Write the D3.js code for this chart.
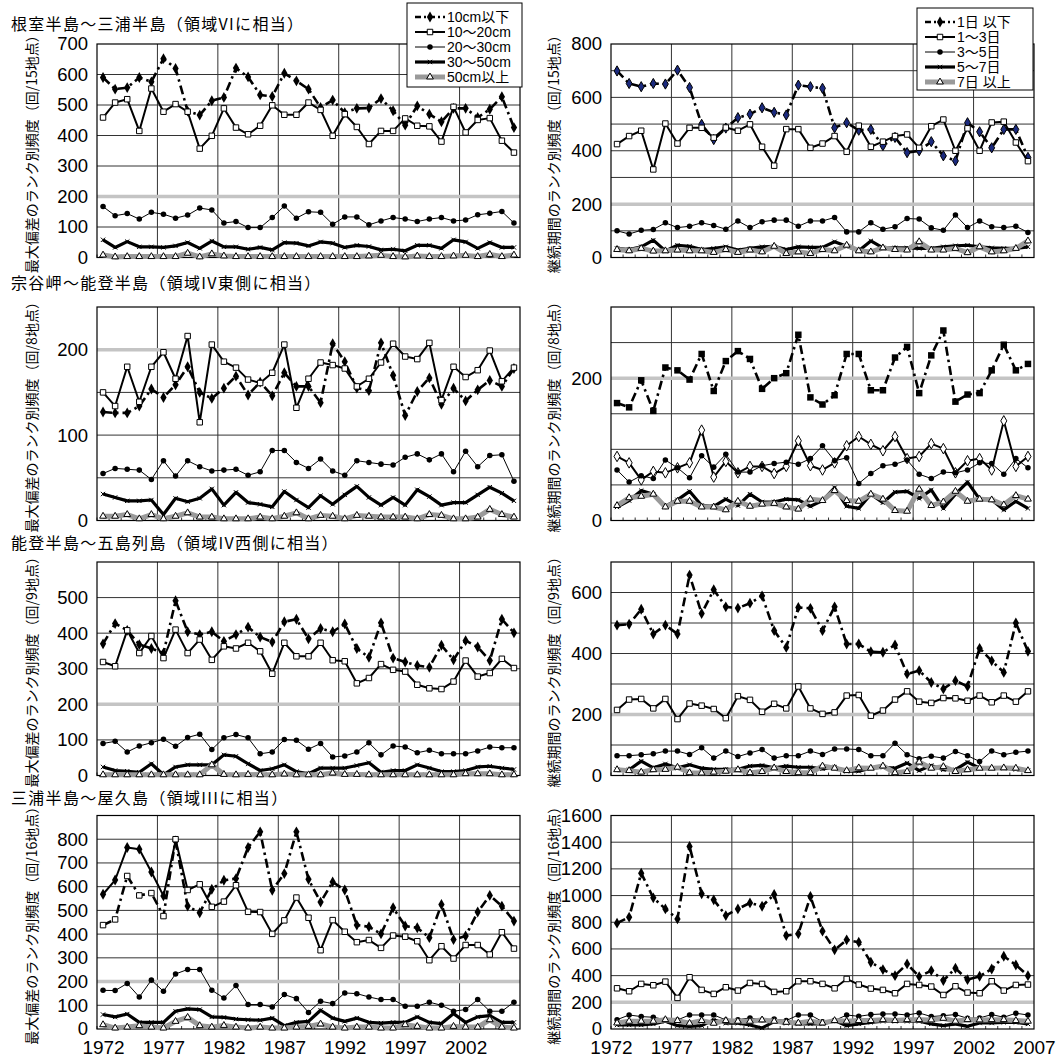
<!DOCTYPE html>
<meta charset="utf-8">
<style>
body { margin: 0; background: #fff; }
svg { font-family: "Liberation Sans", Arial, "Noto Sans CJK JP", sans-serif; }
.title { font-family: "Noto Sans CJK JP", sans-serif; font-size: 16px; letter-spacing: 1.3px; }
.ytitle { font-family: "Noto Sans CJK JP", sans-serif; font-size: 14px; }
.legend text { font-size: 14px; }
</style>
<body>
<script src="https://cdn.jsdelivr.net/npm/d3@7"></script>
<script>

// categories (years) and axis labels
var years = [1972,1973,1974,1975,1976,1977,1978,1979,1980,1981,1982,1983,1984,1985,1986,1987,1988,1989,1990,
             1991,1992,1993,1994,1995,1996,1997,1998,1999,2000,2001,2002,2003,2004,2005,2006];
var gridYears = [1977,1982,1987,1992,1997,2002];
var labelYearsL = [1972,1977,1982,1987,1992,1997,2002];
var labelYearsR = [1972,1977,1982,1987,1992,1997,2002,2007];

var devLegend = ["10cm以下","10～20cm","20～30cm","30～50cm","50cm以上"];
var durLegend = ["1日 以下","1～3日","3～5日","5～7日","7日 以上"];

// 根室半島～三浦半島 : 最大偏差 (/15地点)
var dev6_a = [590,552,557,590,576,652,620,480,467,514,525,621,592,533,528,604,579,552,492,516,475,489,490,521,481,434,497,470,445,489,489,459,486,527,426];
var dev6_b = [459,508,519,415,554,478,503,478,357,399,489,426,404,432,499,468,468,508,484,399,470,428,372,415,415,456,432,430,380,494,410,451,457,383,344];
var dev6_c = [167,137,144,126,148,142,129,139,162,156,113,118,98,98,131,169,129,150,148,109,133,133,107,120,131,126,118,126,131,120,123,140,145,151,113];
var dev6_d = [58,33,52,35,35,33,38,49,30,54,35,35,27,33,25,49,47,38,51,47,33,40,36,25,27,22,40,40,30,58,51,30,49,33,33];
var dev6_e = [8,2,3,3,3,3,3,14,2,12,5,3,3,3,3,3,3,3,3,3,3,3,5,7,3,2,5,3,3,5,7,3,10,3,8];

// 根室半島～三浦半島 : 継続期間 (/15地点)
var dur6_a = [699,652,640,652,650,702,637,499,442,485,524,537,561,544,534,646,640,634,486,505,477,480,419,450,393,400,434,381,362,505,471,411,480,480,375];
var dur6_b = [425,455,475,330,502,427,486,486,449,487,475,499,415,344,481,481,411,427,455,396,494,415,434,455,461,411,492,517,400,484,400,506,509,431,361];
var dur6_c = [100,88,102,105,130,112,117,130,120,106,137,112,134,140,140,117,137,137,150,96,96,130,106,115,146,144,111,102,159,112,137,115,112,117,94];
var dur6_d = [34,30,40,65,25,46,42,30,34,40,28,34,40,42,30,40,38,38,59,42,25,62,36,36,36,34,34,40,44,46,40,36,34,34,40];
var dur6_e = [30,25,34,24,25,28,25,25,19,30,19,28,21,42,15,21,15,30,25,46,25,21,36,30,28,59,28,28,34,18,40,21,25,34,62];

// 宗谷岬～能登半島 : 最大偏差 (/8地点)
var dev4e_a = [127,126,126,134,154,144,159,180,150,143,155,169,147,162,146,173,157,157,138,207,186,155,152,208,170,123,151,167,136,155,140,153,164,157,178];
var dev4e_b = [150,134,180,139,180,197,166,216,115,206,186,179,165,161,173,206,132,166,185,182,178,157,166,185,207,192,189,208,141,180,168,176,199,163,179];
var dev4e_c = [55,61,60,59,48,70,52,70,63,58,59,60,53,57,82,82,68,61,72,58,53,70,68,66,65,74,78,71,78,57,81,63,76,77,46];
var dev4e_d = [31,27,23,23,24,7,26,22,26,37,18,33,21,19,16,34,24,15,29,19,30,40,27,18,27,18,36,28,18,21,21,30,39,32,23];
var dev4e_e = [5,5,7,2,7,2,5,9,4,4,2,2,2,4,2,5,9,2,6,5,2,6,5,4,4,4,2,7,6,2,2,4,13,7,4];

// 宗谷岬～能登半島 : 継続期間 (/8地点)
var dur4e_a = [165,159,197,154,215,211,198,234,182,224,238,227,185,200,207,261,173,163,176,234,234,183,183,229,244,179,232,267,167,177,179,211,247,211,220];
var dur4e_b = [90,81,57,69,67,74,81,127,61,83,67,76,76,66,76,112,77,71,81,105,118,107,98,118,87,90,108,101,67,84,87,71,140,76,90];
var dur4e_c = [71,54,63,59,85,74,60,91,75,93,68,68,77,80,82,79,87,105,84,88,52,66,77,79,85,65,59,68,67,71,81,80,65,87,74];
var dur4e_d = [19,28,42,37,20,29,41,21,20,30,21,37,26,26,30,29,20,28,46,20,17,37,25,40,41,31,43,17,37,54,30,29,15,27,17];
var dur4e_e = [21,32,34,37,19,27,27,19,19,15,27,20,23,24,19,16,30,28,42,28,27,37,30,14,13,44,21,26,41,27,30,29,22,35,30];

// 能登半島～五島列島 : 最大偏差 (/9地点)
var dev4w_a = [370,427,408,368,357,344,491,404,396,404,377,396,417,389,375,432,439,384,413,404,426,357,332,429,330,319,309,304,366,325,379,361,323,439,401];
var dev4w_b = [319,307,408,344,392,330,410,344,382,325,363,357,373,349,286,373,335,335,373,324,321,259,274,313,297,292,255,245,243,264,323,278,288,328,302];
var dev4w_c = [90,96,66,83,92,102,82,107,116,73,106,115,106,61,66,101,99,74,90,52,55,66,92,58,83,80,64,71,61,61,61,69,80,78,78];
var dev4w_d = [24,14,12,9,33,2,24,30,30,30,58,54,33,14,19,30,11,5,21,21,21,28,36,9,14,14,30,21,11,11,14,24,26,21,17];
var dev4w_e = [2,2,2,2,2,2,2,2,2,30,3,2,3,2,2,4,2,2,2,7,3,3,2,2,2,2,2,2,2,2,5,5,5,2,2];

// 能登半島～五島列島 : 継続期間 (/9地点)
var dur4w_a = [493,496,545,464,493,464,657,531,609,553,549,565,589,475,420,551,548,475,553,431,431,406,404,428,333,344,305,284,311,292,417,376,338,500,407];
var dur4w_b = [215,249,251,220,251,185,236,229,218,188,260,248,209,235,220,292,220,202,207,262,264,196,213,249,276,242,238,254,253,245,262,240,262,242,276];
var dur4w_c = [65,65,68,71,80,80,69,91,57,80,62,74,85,57,65,65,80,69,87,87,85,65,65,106,68,55,63,57,79,65,46,80,68,76,80];
var dur4w_d = [19,19,47,25,38,25,35,24,20,20,20,31,33,25,31,27,27,22,27,14,14,24,27,24,41,16,33,19,19,44,24,24,24,20,16];
var dur4w_e = [19,16,11,19,20,27,9,8,11,14,19,9,13,25,13,9,9,31,24,16,25,24,31,9,13,44,24,29,13,19,24,24,25,24,16];

// 三浦半島～屋久島 : 最大偏差 (/16地点)
var dev3_a = [568,628,765,758,662,561,793,518,490,589,627,634,765,831,585,655,831,631,535,620,586,438,431,401,511,434,427,385,525,377,392,493,563,518,455];
var dev3_b = [438,462,645,563,573,476,800,586,610,515,537,606,494,493,401,458,554,469,332,459,410,366,375,342,394,389,370,290,349,297,354,354,314,408,339];
var dev3_c = [163,162,192,135,206,159,232,251,251,163,131,183,103,103,93,145,128,70,117,107,152,149,135,124,124,96,96,113,100,75,82,124,75,75,113];
var dev3_d = [61,51,63,28,28,28,75,85,82,51,49,42,39,37,46,14,28,32,79,46,32,46,28,25,28,28,51,28,23,65,28,51,56,28,28];
var dev3_e = [18,4,8,14,8,4,32,49,14,8,15,8,4,8,4,4,8,11,21,8,4,8,8,4,4,18,11,4,4,11,8,8,39,8,4];

// 三浦半島～屋久島 : 継続期間 (/16地点)
var dur3_a = [793,838,1168,983,900,825,1368,1013,968,850,900,945,920,1008,700,713,993,733,593,668,650,500,445,400,488,393,438,363,455,370,395,450,545,480,400];
var dur3_b = [305,283,338,328,355,233,388,293,263,313,288,345,338,278,283,358,358,338,305,375,333,303,293,268,338,330,318,255,320,273,268,358,288,330,333];
var dur3_c = [70,105,93,88,70,68,105,105,105,68,70,83,68,75,63,105,105,55,63,105,95,108,113,113,105,120,93,100,108,80,83,108,88,118,105];
var dur3_d = [30,30,30,38,58,25,20,25,68,43,43,30,8,55,43,38,38,38,63,25,38,50,58,58,58,58,38,25,38,20,45,45,50,50,38];
var dur3_e = [45,58,58,58,70,63,43,63,43,63,58,58,68,58,50,45,58,45,63,58,63,63,70,63,70,70,68,80,58,70,68,70,70,63,58];

// layout
var W = 1063, H = 1059;
var cols = [{left: 97, right: 520, ytx: 31, label: 0.5}, {left: 611, right: 1034, ytx: 553, label: 0}];
var rowTop = [44, 307, 562, 815.5], plotH = 213.5;
var titleY = [30, 289, 549, 804];

var lineStyles = [
  {color: "#000", width: 2.6, dash: "9,4,2.5,4"},
  {color: "#000", width: 2, dash: null},
  {color: "#000", width: 1, dash: null},
  {color: "#000", width: 3.2, dash: null},
  {color: "#9a9a9a", width: 5, dash: null}
];
var mk = {
  diamond:  {type: d3.symbolDiamond, size: 34, fill: "#000", stroke: "none"},
  navy:     {type: d3.symbolDiamond, size: 30, fill: "#1b2a7e", stroke: "#000"},
  bsquare:  {type: d3.symbolSquare, size: 42, fill: "#000", stroke: "none"},
  square:   {type: d3.symbolSquare, size: 30, fill: "#fff", stroke: "#000"},
  wdiamond: {type: d3.symbolDiamond, size: 32, fill: "#fff", stroke: "#000"},
  circle:   {type: d3.symbolCircle, size: 24, fill: "#000", stroke: "none"},
  times:    {type: d3.symbolTimes, size: 14, fill: "none", stroke: "#000"},
  tri:      {type: d3.symbolTriangle, size: 20, fill: "#fff", stroke: "#000"}
};
var defaultMarks = ["diamond", "square", "circle", "times", "tri"];

var panels = [
  {col: 0, row: 0, max: 700, grid: 100, ticks: [0,100,200,300,400,500,600,700],
   title: "根室半島～三浦半島（領域VIに相当）", ytitle: "最大偏差のランク別頻度（回/15地点）",
   series: [dev6_a, dev6_b, dev6_c, dev6_d, dev6_e]},
  {col: 1, row: 0, max: 800, grid: 100, ticks: [0,200,400,600,800], marks: ["navy"],
   ytitle: "継続期間のランク別頻度（回/15地点）",
   series: [dur6_a, dur6_b, dur6_c, dur6_d, dur6_e]},
  {col: 0, row: 1, max: 250, grid: 50, ticks: [0,100,200],
   title: "宗谷岬～能登半島（領域IV東側に相当）", ytitle: "最大偏差のランク別頻度（回/8地点）",
   series: [dev4e_a, dev4e_b, dev4e_c, dev4e_d, dev4e_e]},
  {col: 1, row: 1, max: 300, grid: 50, ticks: [0,200], marks: ["bsquare", "wdiamond"],
   ytitle: "継続期間のランク別頻度（回/8地点）",
   series: [dur4e_a, dur4e_b, dur4e_c, dur4e_d, dur4e_e]},
  {col: 0, row: 2, max: 600, grid: 100, ticks: [0,100,200,300,400,500],
   title: "能登半島～五島列島（領域IV西側に相当）", ytitle: "最大偏差のランク別頻度（回/9地点）",
   series: [dev4w_a, dev4w_b, dev4w_c, dev4w_d, dev4w_e]},
  {col: 1, row: 2, max: 700, grid: 100, ticks: [0,200,400,600],
   ytitle: "継続期間のランク別頻度（回/9地点）",
   series: [dur4w_a, dur4w_b, dur4w_c, dur4w_d, dur4w_e]},
  {col: 0, row: 3, max: 900, grid: 100, ticks: [0,100,200,300,400,500,600,700,800], swap: 6, xlabels: labelYearsL,
   title: "三浦半島～屋久島（領域IIIに相当）", ytitle: "最大偏差のランク別頻度（回/16地点）",
   series: [dev3_a, dev3_b, dev3_c, dev3_d, dev3_e]},
  {col: 1, row: 3, max: 1600, grid: 200, ticks: [0,200,400,600,800,1000,1200,1400,1600], xlabels: labelYearsR,
   ytitle: "継続期間のランク別頻度（回/16地点）",
   series: [dur3_a, dur3_b, dur3_c, dur3_d, dur3_e]}
];

var svg = d3.select("body").append("svg")
    .attr("width", W)
    .attr("height", H);

function styleLine(sel, st) {
  sel.attr("fill", "none")
     .attr("stroke", st.color)
     .attr("stroke-width", st.width)
     .attr("stroke-linejoin", "round")
     .attr("stroke-dasharray", st.dash);
}

function drawMarks(g, pts, m) {
  g.selectAll(null).data(pts).enter().append("path")
      .attr("transform", function(d) { return "translate(" + d[0] + "," + d[1] + ")"; })
      .attr("d", d3.symbol().type(m.type).size(m.size))
      .attr("fill", m.fill)
      .attr("stroke", m.stroke)
      .attr("stroke-width", 1);
}

function drawPanel(p) {
  var c = cols[p.col], top = rowTop[p.row], bottom = top + plotH;
  var x = d3.scaleLinear().domain([1972, 2007]).range([c.left, c.right]);
  var y = d3.scaleLinear().domain([0, p.max]).range([bottom, top]);
  var g = svg.append("g");

  // gridlines
  g.selectAll(".hg").data(d3.range(p.grid, p.max, p.grid)).enter().append("line")
      .attr("x1", c.left).attr("x2", c.right)
      .attr("y1", function(d) { return y(d); }).attr("y2", function(d) { return y(d); })
      .attr("stroke", "#333").attr("stroke-width", 1);
  g.selectAll(".vg").data(gridYears).enter().append("line")
      .attr("x1", function(d) { return x(d); }).attr("x2", function(d) { return x(d); })
      .attr("y1", top).attr("y2", bottom)
      .attr("stroke", "#333").attr("stroke-width", 1);
  // small ticks on the bottom edge
  g.selectAll(".tk").data(years).enter().append("line")
      .attr("x1", function(d) { return x(d); }).attr("x2", function(d) { return x(d); })
      .attr("y1", bottom).attr("y2", bottom - 3)
      .attr("stroke", "#333").attr("stroke-width", 1);

  // 200 reference line
  g.append("line")
      .attr("x1", c.left).attr("x2", c.right)
      .attr("y1", y(200)).attr("y2", y(200))
      .attr("stroke", "#c4c4c4").attr("stroke-width", 3.5);

  // frame
  g.append("rect")
      .attr("x", c.left).attr("y", top)
      .attr("width", c.right - c.left).attr("height", plotH)
      .attr("fill", "none").attr("stroke", "#000").attr("stroke-width", 1.2);

  // y axis
  var ya = g.append("g")
      .attr("transform", "translate(" + c.left + ",0)")
      .call(d3.axisLeft(y).tickValues(p.ticks).tickFormat(d3.format("d")).tickSize(0).tickPadding(9));
  ya.select(".domain").remove();
  ya.attr("font-size", 18.5).attr("font-family", null);

  // x axis labels (bottom row only)
  if (p.xlabels) {
    var xa = g.append("g")
        .attr("transform", "translate(0," + bottom + ")")
        .call(d3.axisBottom(x)
          .tickValues(p.xlabels.map(function(d) { return d + c.label; }))
          .tickFormat(function(d) { return Math.floor(d); })
          .tickSize(0).tickPadding(12));
    xa.select(".domain").remove();
    xa.attr("font-size", 19).attr("font-family", null);
  }

  // series
  var marks = defaultMarks.map(function(d, i) { return (p.marks && p.marks[i]) || d; });
  var line = d3.line();
  p.series.forEach(function(vals, k) {
    var pts = years.map(function(yr, i) { return [x(yr + 0.5), y(vals[i])]; });
    if (p.swap && k < 2) {
      // the early segments of the first two series are drawn with each other's style
      styleLine(g.append("path").attr("d", line(pts.slice(0, p.swap + 1))), lineStyles[1 - k]);
      styleLine(g.append("path").attr("d", line(pts.slice(p.swap))), lineStyles[k]);
    } else {
      styleLine(g.append("path").attr("d", line(pts)), lineStyles[k]);
    }
    drawMarks(g, pts, mk[marks[k]]);
  });

  // titles
  if (p.title) {
    svg.append("text").attr("class", "title")
        .attr("x", 11).attr("y", titleY[p.row])
        .text(p.title);
  }
  svg.append("text").attr("class", "ytitle")
      .attr("text-anchor", "middle")
      .attr("dominant-baseline", "central")
      .attr("transform", "translate(" + c.ytx + "," + (top + plotH / 2) + ") rotate(-90)")
      .text(p.ytitle);
}

panels.forEach(drawPanel);

// legends
function drawLegend(x0, y0, w, h, labels) {
  var g = svg.append("g").attr("class", "legend");
  g.append("rect").attr("x", x0).attr("y", y0).attr("width", w).attr("height", h)
      .attr("fill", "#fff").attr("stroke", "#000").attr("stroke-width", 1);
  labels.forEach(function(lab, k) {
    var cy = y0 + 14 + k * 15;
    var st = k === 0 ? {color: "#000", width: 2.6, dash: "6,3,2,3"} : lineStyles[k];
    styleLine(g.append("line").attr("x1", x0 + 8).attr("x2", x0 + 38).attr("y1", cy).attr("y2", cy), st);
    drawMarks(g, [[x0 + 23, cy]], mk[defaultMarks[k]]);
    g.append("text").attr("x", x0 + 40).attr("y", cy).attr("dominant-baseline", "central").text(lab);
  });
}
drawLegend(407, 3, 115, 84, devLegend);
drawLegend(917, 8, 116, 82, durLegend);

</script>
</body>
